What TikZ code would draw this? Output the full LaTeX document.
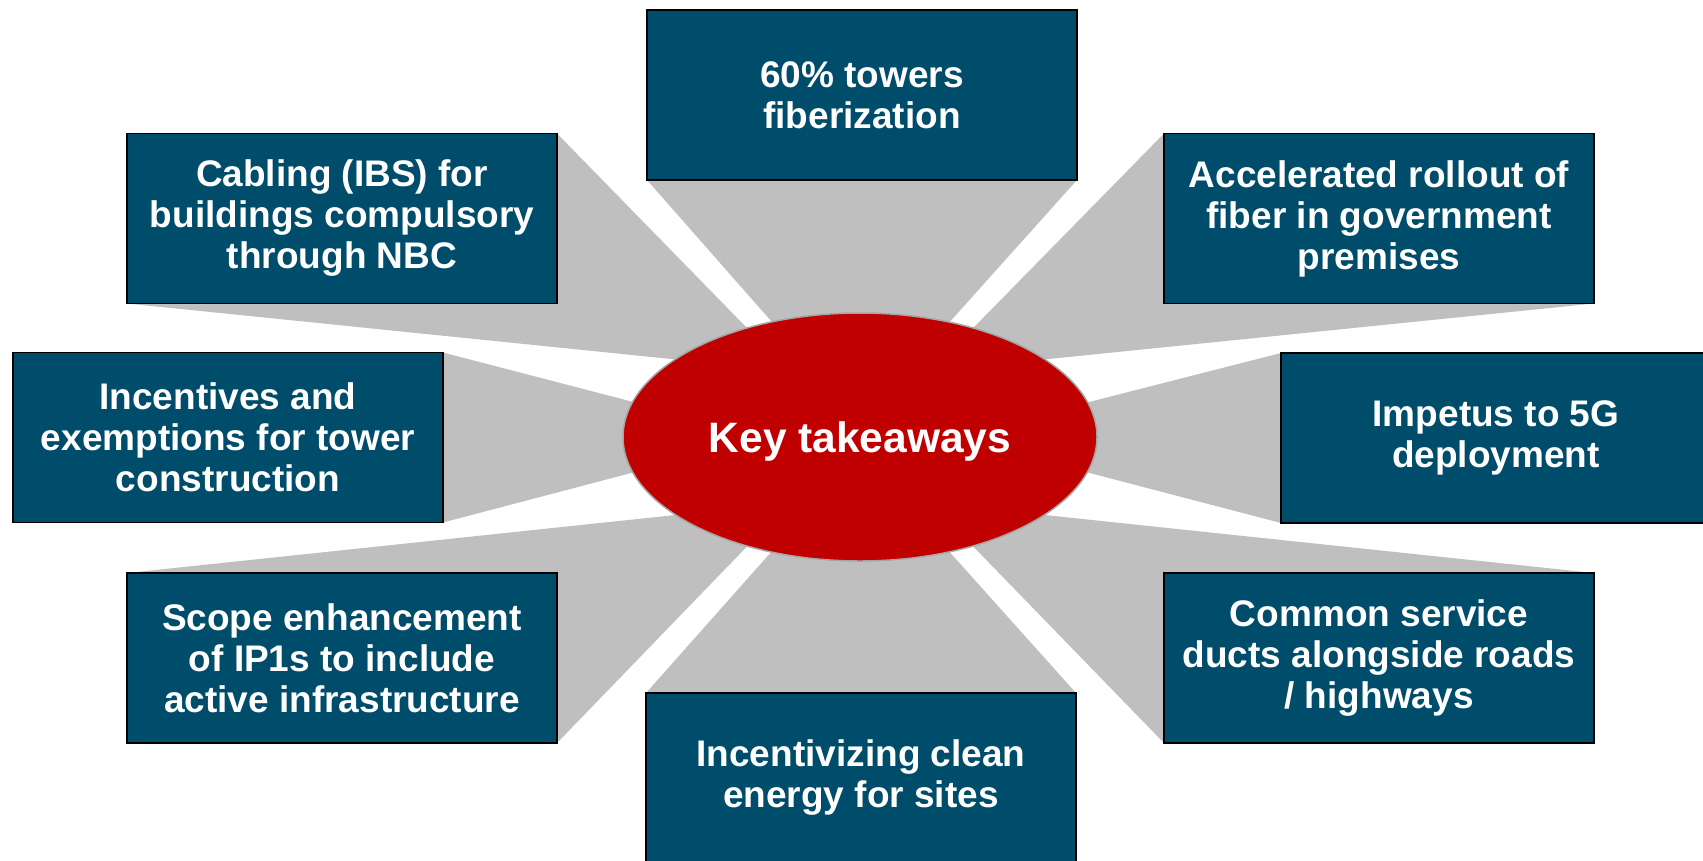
\documentclass[tikz,border=0pt]{standalone}
\usepackage{fontspec}
\setmainfont{Liberation Sans}
\usetikzlibrary{shapes.geometric,backgrounds}
\definecolor{boxblue}{RGB}{0,76,107}
\definecolor{wedgegray}{RGB}{191,191,191}
\definecolor{keyred}{RGB}{192,0,0}
\definecolor{rimgray}{RGB}{165,165,165}
\begin{document}
\begin{tikzpicture}[x=1pt,y=-1pt,
  box/.style={draw=black, line width=1.8pt, fill=boxblue, text=white,
    font=\bfseries\fontsize{37}{41}\selectfont, align=center,
    minimum width=430pt, minimum height=170pt, inner sep=0pt, outer sep=0pt},
  wedge/.style={fill=wedgegray},
  keynode/.style={ellipse, draw=rimgray, line width=1.5pt, fill=keyred, text=white,
    minimum width=474pt, minimum height=248pt, inner sep=0pt, text depth=0pt,
    font=\bfseries\fontsize{42.5}{45}\selectfont}]
\useasboundingbox (0,0) rectangle (1703,860);
\clip (0,0) rectangle (1703,860);
% boxes
\node[box] (top)   at (862,95)    {60\% towers\\fiberization};
\node[box] (cab)   at (342,218.5) {Cabling (IBS) for\\buildings compulsory\\through NBC};
\node[box] (acc)   at (1379,218.5){Accelerated rollout of\\fiber in government\\premises};
\node[box] (inc)   at (228,437.5) {Incentives and\\exemptions for tower\\construction};
\node[box] (imp)   at (1496,438)  {Impetus to 5G\\deployment};
\node[box] (scope) at (342,658)   {Scope enhancement\\of IP1s to include\\active infrastructure};
\node[box] (com)   at (1379,658)  {Common service\\ducts alongside roads\\/ highways};
\node[box] (bot)   at (861,778)   {Incentivizing clean\\energy for sites};
% apex points of the wedges
\coordinate (apT)   at (860,422);
\coordinate (apB)   at (860,452);
\coordinate (apCab) at (789,371);
\coordinate (apAcc) at (931,371);
\coordinate (apSc)  at (789,503);
\coordinate (apCom) at (931,503);
\coordinate (apInc) at (768,437);
\coordinate (apImp) at (952,437);
\begin{pgfonlayer}{background}
  \fill[white] (0,0) rectangle (1703,860);
  \fill[wedge] (top.south west) -- (apT) -- (top.south east) -- cycle;
  \fill[wedge] (bot.north west) -- (apB) -- (bot.north east) -- cycle;
  \fill[wedge] (cab.north east) -- (apCab) -- (cab.south west) -- cycle;
  \fill[wedge] (acc.north west) -- (apAcc) -- (acc.south east) -- cycle;
  \fill[wedge] (scope.north west) -- (apSc) -- (scope.south east) -- cycle;
  \fill[wedge] (com.north east) -- (apCom) -- (com.south west) -- cycle;
  \fill[wedge] (inc.north east) -- (apInc) -- (inc.south east) -- cycle;
  \fill[wedge] (imp.north west) -- (apImp) -- (imp.south west) -- cycle;
\end{pgfonlayer}
% centre
\node[keynode] (key) at (860,437) {Key takeaways};
\end{tikzpicture}
\end{document}
